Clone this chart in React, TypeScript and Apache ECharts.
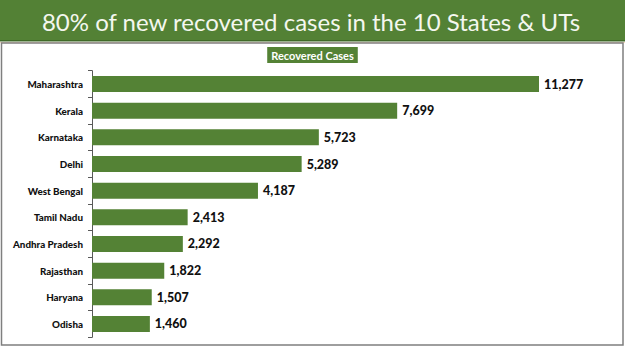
import React, { useEffect, useRef } from "react";
import * as echarts from "echarts";

const titleText = "80% of new recovered cases in the 10 States & UTs";
const seriesName = "Recovered Cases";
const states = [
  "Maharashtra",
  "Kerala",
  "Karnataka",
  "Delhi",
  "West Bengal",
  "Tamil Nadu",
  "Andhra Pradesh",
  "Rajasthan",
  "Haryana",
  "Odisha",
];
const recovered = [11277, 7699, 5723, 5289, 4187, 2413, 2292, 1822, 1507, 1460];

export default function App() {
  const ref = useRef<HTMLDivElement>(null);
  useEffect(() => {
    if (!ref.current) return;
    const chart = echarts.init(ref.current, null, { renderer: "svg" });
    const green = "#548235";
    chart.setOption({
      animation: false,
      backgroundColor: "#ffffff",
      title: {
        text: seriesName,
        left: "center",
        top: 47,
        padding: [2, 4, 2, 4],
        backgroundColor: green,
        textStyle: {
          color: "#ffffff",
          fontFamily: "Lato",
          fontWeight: "bold",
          fontSize: 11,
          lineHeight: 12,
        },
      },
      graphic: [
        { type: "rect", shape: { x: 0, y: 0, width: 625, height: 41 }, style: { fill: "#538135" } },
        { type: "rect", shape: { x: 0, y: 40, width: 625, height: 1.5 }, style: { fill: "#3f6a27" } },
        { type: "rect", shape: { x: 0, y: 42, width: 625, height: 1 }, style: { fill: "#f8d9c0" } },
        {
          type: "text",
          x: 311,
          y: 21,
          style: {
            text: titleText,
            fill: "#f4f7ef",
            fontFamily: "Lato",
            fontSize: 24,
            align: "center",
            verticalAlign: "middle",
          },
        },
        {
          type: "rect",
          shape: { x: 1.5, y: 43, width: 621.5, height: 302 },
          style: { fill: "none", stroke: "#7f7f7f", lineWidth: 1.5 },
        },
      ],
      grid: { left: 92, top: 70.7, width: 13000 * (447 / 11277), height: 266.6, containLabel: false },
      xAxis: {
        type: "value",
        min: 0,
        max: 13000,
        show: false,
      },
      yAxis: {
        type: "category",
        data: states,
        inverse: true,
        axisLine: { show: true, lineStyle: { color: "#595959", width: 1 } },
        axisTick: { show: true, length: 4, lineStyle: { color: "#595959" } },
        axisLabel: {
          color: "#111111",
          fontFamily: "Lato",
          fontWeight: 900,
          fontSize: 9.8,
          margin: 9,
        },
      },
      series: [
        {
          name: seriesName,
          type: "bar",
          data: recovered,
          barWidth: 16,
          itemStyle: { color: green },
          label: {
            show: true,
            position: "right",
            distance: 5,
            color: "#111111",
            fontFamily: "Lato",
            fontWeight: 900,
            fontSize: 12.5,
            formatter: (p: any) => Number(p.value).toLocaleString("en-US"),
          },
        },
      ],
    });
    return () => chart.dispose();
  }, []);
  return (
    <div
      ref={ref}
      style={{ position: "fixed", left: 0, top: 0, width: 625, height: 351 }}
    />
  );
}
